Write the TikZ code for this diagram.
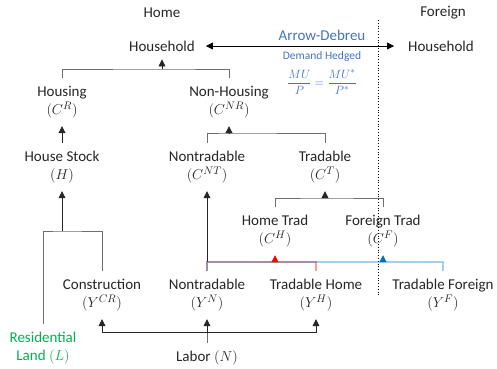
\documentclass[tikz,border=0pt]{standalone}
\usepackage{fontspec}
\setmainfont{Carlito}
\usetikzlibrary{arrows.meta}
\definecolor{linegray}{RGB}{110,110,110}
\definecolor{txt}{RGB}{38,38,38}
\definecolor{adblue}{RGB}{68,114,196}
\definecolor{landgreen}{RGB}{0,176,80}
\definecolor{tradred}{RGB}{255,0,0}
\definecolor{tradblue}{RGB}{0,112,192}
\tikzstyle{sector} = [align=center, inner xsep=2pt, inner ysep=8pt, text=txt, font=\fontsize{15}{18}\selectfont]
\tikzstyle{link} = [draw=linegray, line width=0.8pt]
\tikzstyle{arrow} = [draw=black!85, line width=0.8pt, -{Triangle[length=7pt,width=7pt]}]
\tikzstyle{redline} = [draw=tradred, line width=1.5pt, opacity=0.4]
\tikzstyle{blueline} = [draw=tradblue, line width=1.5pt, opacity=0.35]

\begin{document}
\begin{tikzpicture}[x=1pt, y=-1pt]
\useasboundingbox (0,0) rectangle (497,368);

% Nodes
\node (home) [sector] at (162,13) {Home};
\node (foreign) [sector] at (443,13) {Foreign};
\node (hh) [sector] at (162,46) {Household};
\node (hhf) [sector] at (441,46) {Household};
\node (ad) [sector, text=adblue] at (322,35) {Arrow-Debreu};
\node (dh) [sector, text=adblue, font=\fontsize{11.5}{13}\selectfont] at (322,56) {Demand Hedged};
\node (euler) [sector, text=adblue, font=\fontsize{12.5}{14}\selectfont] at (322,82) {$\displaystyle\frac{MU}{P}=\frac{MU^{*}}{P^{*}}$};
\node (housing) [sector] at (62,102) {Housing\\$(C^{R})$};
\node (nonhousing) [sector] at (229,102) {Non-Housing\\$(C^{NR})$};
\node (hstock) [sector] at (62,167) {House Stock\\$(H)$};
\node (cnt) [sector] at (207,167) {Nontradable\\$(C^{NT})$};
\node (ct) [sector] at (325,167) {Tradable\\$(C^{T})$};
\node (chome) [sector] at (275,231) {Home Trad\\$(C^{H})$};
\node (cfor) [sector] at (383,231) {Foreign Trad\\$(C^{F})$};
\node (ycr) [sector] at (102,295) {Construction\\$(Y^{CR})$};
\node (yn) [sector] at (207,295) {Nontradable\\$(Y^{N})$};
\node (yh) [sector] at (316,295) {Tradable Home\\$(Y^{H})$};
\node (yf) [sector] at (443,295) {Tradable Foreign\\$(Y^{F})$};
\node (land) [sector, text=landgreen] at (43,348) {Residential\\Land $(L)$};
\node (labor) [sector] at (207,358) {Labor $(N)$};

% Junctions
\coordinate (hhj) at (162,69);
\coordinate (nhj) at (229,133);
\coordinate (tj) at (325,198);
\coordinate (hj) at (62,231);
\coordinate (chj) at (275,262);
\coordinate (cfj) at (383,262);
\coordinate (lj) at (207,332);

% Home / Foreign divider
\draw [black, dotted, line width=0.8pt] (378,20) -- (378,295);

% Arrows
\draw [black, line width=0.8pt, {Triangle[length=7pt,width=7pt]}-{Triangle[length=7pt,width=7pt]}, shorten <=9pt, shorten >=12pt] (hh.east) -- (hhf.west);
\draw [link] (housing.north) |- (hhj) -| (nonhousing.north);
\draw [arrow] (hhj) -- (hh.south);
\draw [arrow] (hstock) -- (housing);
\draw [link] (cnt.north) |- (nhj) -| (ct.north);
\draw [arrow] (nhj) -- (nonhousing.south);
\draw [link] (chome.north) |- (tj) -| (cfor.north);
\draw [arrow] (tj) -- (ct.south);
\draw [link] (land.north) |- (hj) -| (ycr.north);
\draw [arrow] (hj) -- (hstock.south);
\draw [arrow] (yn.north |- chj) -- (cnt.south);
\draw [redline] (yn.north) |- (chj) -| (yh.north);
\draw [blueline] (yn.north) |- (cfj) -| (yf.north);
\draw [arrow, draw=tradred] (chj) -- (chome.south);
\draw [arrow, draw=tradblue] (cfj) -- (cfor.south);
\draw [link] (labor.north) -- (lj);
\draw [arrow] (lj) -- (yn.south);
\draw [arrow] (lj) -| (ycr.south);
\draw [arrow] (lj) -| (yh.south);

\end{tikzpicture}
\end{document}
